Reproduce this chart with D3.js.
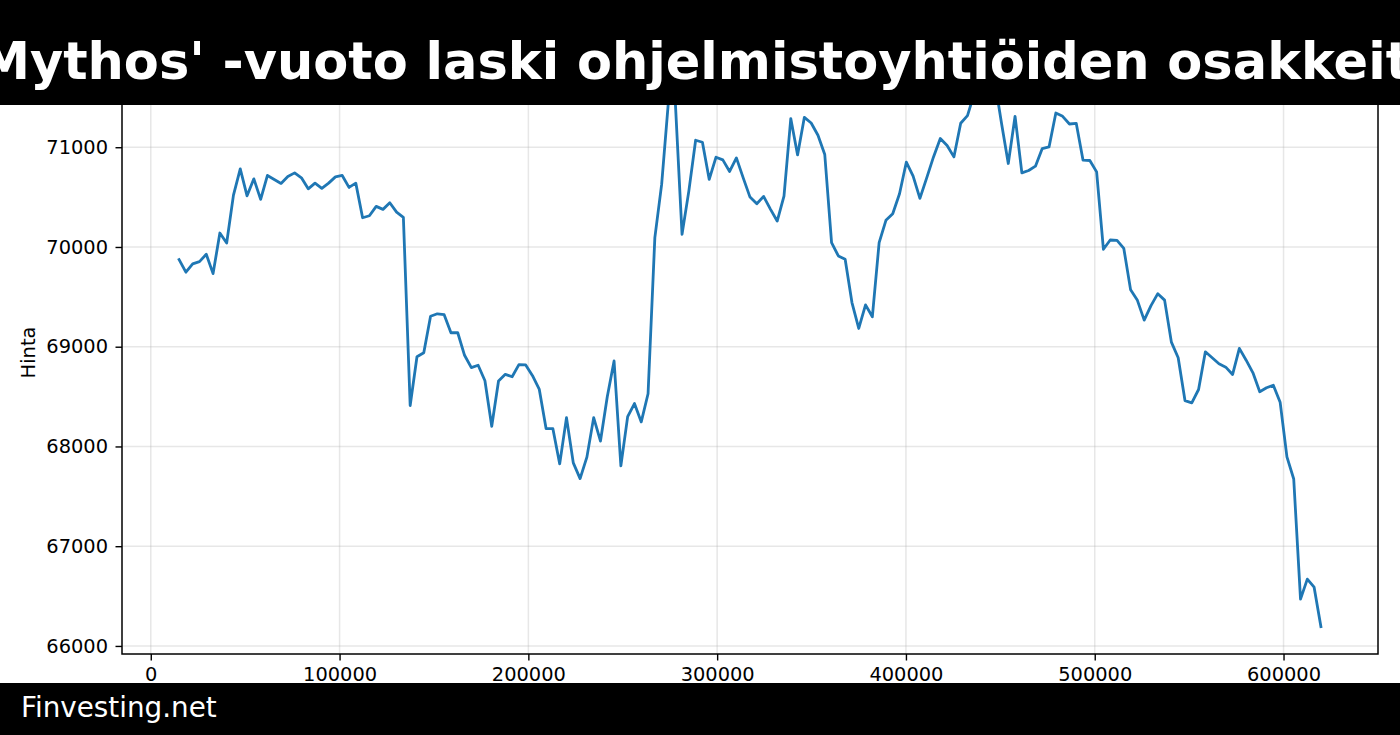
<!DOCTYPE html>
<html>
<head>
<meta charset="utf-8">
<script src="https://cdn.jsdelivr.net/npm/d3@7"></script>
<style>
  html, body { margin: 0; padding: 0; background: #fff; overflow: hidden; }
  svg { display: block; font-family: "DejaVu Sans", sans-serif; }
</style>
</head>
<body>
<div id="chart"></div>
<script>
// chart texts
var titleText = "'Mythos' -vuoto laski ohjelmistoyhtiöiden osakkeita";
var yLabel = "Hinta";
var footerText = "Finvesting.net";

// time axis (seconds): first sample and spacing
var startSec = 15000;
var stepSec = 3600;

// price, one per hour
var prices = [
    69873, 69747, 69830, 69853, 69927, 69733, 70140, 70040, 70520, 70783,
    70513, 70683, 70477, 70717, 70677, 70637, 70707, 70743, 70693, 70583,
    70640, 70587, 70640, 70703, 70717, 70597, 70640, 70293, 70313, 70407,
    70377, 70443, 70350, 70297, 68410, 68900, 68940, 69305, 69330, 69321,
    69140, 69140, 68914, 68790, 68814, 68659, 68202, 68656, 68723, 68699,
    68820, 68817, 68709, 68572, 68178, 68178, 67825, 68289, 67835, 67678,
    67893, 68289, 68054, 68498, 68857, 67805, 68299, 68430, 68246, 68528,
    70094, 70627, 71460, 71470, 70127, 70560, 71070, 71050, 70677, 70900,
    70873, 70757, 70893, 70693, 70500, 70433, 70507, 70380, 70260, 70510,
    71287, 70923, 71300, 71243, 71120, 70927, 70043, 69910, 69877, 69443,
    69183, 69420, 69300, 70043, 70267, 70333, 70533, 70850, 70710, 70487,
    70693, 70903, 71087, 71017, 70903, 71240, 71317, 71540, 71620, 71690,
    71670, 71243, 70837, 71310, 70743, 70767, 70810, 70987, 71003, 71343,
    71310, 71233, 71240, 70870, 70867, 70753, 69977, 70070, 70067, 69985,
    69570, 69465, 69267, 69412, 69532, 69467, 69046, 68889, 68460, 68437,
    68571, 68949, 68889, 68829, 68795, 68721, 68983, 68865, 68738, 68548,
    68588, 68614, 68444, 67895, 67674, 66469, 66670, 66589, 66194
];

var xTicks = [0, 100000, 200000, 300000, 400000, 500000, 600000];
var yTicks = [66000, 67000, 68000, 69000, 70000, 71000];

var data = prices.map(function (p, i) { return { t: startSec + i * stepSec, v: p }; });

var width = 1400, height = 735;
var margin = { top: 51, right: 22, bottom: 81, left: 122 };

var svg = d3.select("#chart")
    .append("svg")
    .attr("width", width)
    .attr("height", height);

// matplotlib style 5% padding on both axes
function padded(ext) {
    var p = (ext[1] - ext[0]) * 0.05;
    return [ext[0] - p, ext[1] + p];
}

var x = d3.scaleLinear()
    .domain(padded(d3.extent(data, function (d) { return d.t; })))
    .range([margin.left, width - margin.right]);

var y = d3.scaleLinear()
    .domain(padded(d3.extent(data, function (d) { return d.v; })))
    .range([height - margin.bottom, margin.top]);

// grid
var grid = svg.append("g").attr("stroke", "#b0b0b0").attr("stroke-opacity", 0.3).attr("stroke-width", 1.5);
grid.selectAll("line.gx").data(xTicks).enter().append("line")
    .attr("x1", function (d) { return x(d); }).attr("x2", function (d) { return x(d); })
    .attr("y1", margin.top).attr("y2", height - margin.bottom);
grid.selectAll("line.gy").data(yTicks).enter().append("line")
    .attr("x1", margin.left).attr("x2", width - margin.right)
    .attr("y1", function (d) { return y(d); }).attr("y2", function (d) { return y(d); });

// price line
var line = d3.line()
    .x(function (d) { return x(d.t); })
    .y(function (d) { return y(d.v); });

svg.append("path")
    .datum(data)
    .attr("fill", "none")
    .attr("stroke", "#1f77b4")
    .attr("stroke-width", 2.8)
    .attr("stroke-linejoin", "round")
    .attr("stroke-linecap", "square")
    .attr("d", line);

// axes
var xAxis = svg.append("g")
    .attr("transform", "translate(0," + (height - margin.bottom) + ")")
    .call(d3.axisBottom(x).tickValues(xTicks).tickFormat(d3.format("d")).tickSizeOuter(0).tickSize(6.5).tickPadding(7));

var yAxis = svg.append("g")
    .attr("transform", "translate(" + margin.left + ",0)")
    .call(d3.axisLeft(y).tickValues(yTicks).tickFormat(d3.format("d")).tickSizeOuter(0).tickSize(6.5).tickPadding(7.5));

[xAxis, yAxis].forEach(function (a) {
    a.select(".domain").remove();
    a.selectAll("line").attr("stroke", "#000").attr("stroke-width", 1.4);
    a.selectAll("text")
        .attr("fill", "#000")
        .style("font-family", "DejaVu Sans")
        .style("font-size", "19.4px");
});

// spines
svg.append("rect")
    .attr("x", margin.left)
    .attr("y", margin.top)
    .attr("width", width - margin.right - margin.left)
    .attr("height", height - margin.bottom - margin.top)
    .attr("fill", "none")
    .attr("stroke", "#000")
    .attr("stroke-width", 1.5);

svg.append("text")
    .attr("transform", "translate(28.5," + ((margin.top + height - margin.bottom) / 2) + ") rotate(-90)")
    .attr("text-anchor", "middle")
    .attr("dominant-baseline", "central")
    .style("font-size", "19.4px")
    .text(yLabel);

// title bar on top
svg.append("rect").attr("x", 0).attr("y", 0).attr("width", width).attr("height", 105).attr("fill", "#000");
svg.append("text")
    .attr("x", width / 2 + 4)
    .attr("y", 79)
    .attr("text-anchor", "middle")
    .attr("fill", "#fff")
    .style("font-weight", "bold")
    .style("font-size", "51px")
    .text(titleText);

// footer bar
svg.append("rect").attr("x", 0).attr("y", 683).attr("width", width).attr("height", height - 683).attr("fill", "#000");
svg.append("text")
    .attr("x", 21)
    .attr("y", 717)
    .attr("fill", "#fff")
    .style("font-size", "27.8px")
    .text(footerText);
</script>
</body>
</html>
